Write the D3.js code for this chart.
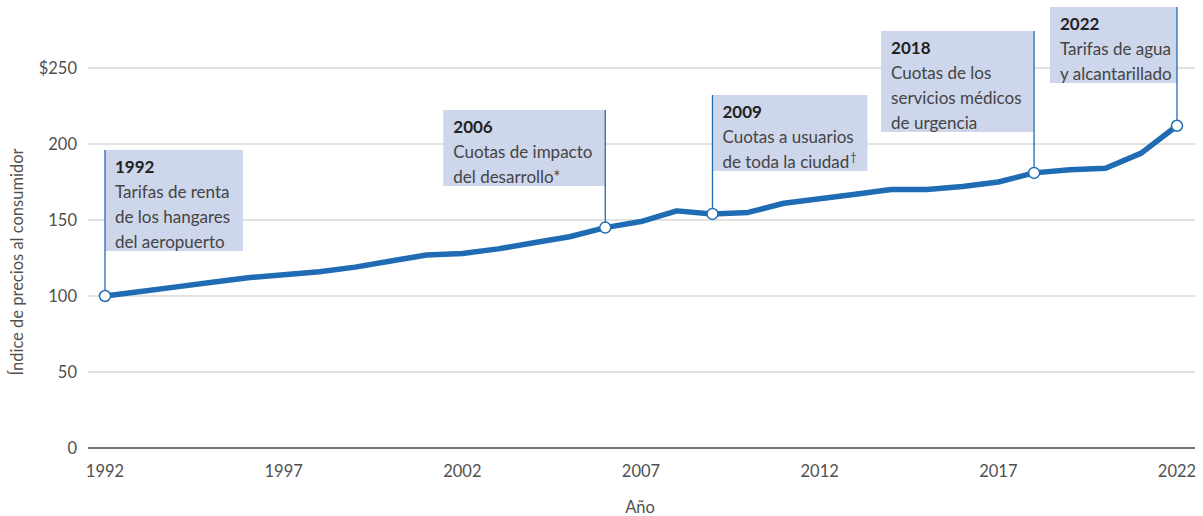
<!DOCTYPE html>
<html><head><meta charset="utf-8">
<script src="https://cdn.jsdelivr.net/npm/d3@7"></script>
<style>
body{margin:0;background:#fff;}
svg text{font-family:Lato,"Noto Sans",sans-serif;}
</style></head>
<body><svg id="c" width="1203" height="516"></svg>
<script>
const years = d3.range(1992, 2023);
const cpi = [100,103,106,109,112,114,116,119,123,127,128,131,135,139,145,149,156,154,155,161,164,167,170,170,172,175,181,183,184,194,212];
const yTicks = [0,50,100,150,200,250];
const xTicks = [1992,1997,2002,2007,2012,2017,2022];
const annYears = [1992,2006,2009,2018,2022];
const annTitles = ["1992","2006","2009","2018","2022"];
const annLines = [
  ["Tarifas de renta","de los hangares","del aeropuerto"],
  ["Cuotas de impacto","del desarrollo*"],
  ["Cuotas a usuarios","de toda la ciudad"],
  ["Cuotas de los","servicios médicos","de urgencia"],
  ["Tarifas de agua","y alcantarillado"]
];
const annSup = ["","","†","",""];
const annSide = ["right","left","right","left","left"];
const annTop = [150,110,95,31,7];
const annWidth = [138,162,155,153,127];

const svg = d3.select("#c");
const x = d3.scaleLinear().domain([1992,2022]).range([105,1177]);
const y = d3.scaleLinear().domain([0,250]).range([448,68]);
const txt = "#505050";

// grid
svg.append("g").selectAll("line").data(yTicks.filter(d=>d>0)).join("line")
  .attr("x1",88).attr("x2",1195).attr("y1",d=>y(d)).attr("y2",d=>y(d))
  .attr("stroke","#d9d9d9").attr("stroke-width",1.3);
svg.append("line").attr("x1",88).attr("x2",1195).attr("y1",y(0)).attr("y2",y(0))
  .attr("stroke","#444").attr("stroke-width",1.5);

// y labels
svg.append("g").selectAll("text").data(yTicks).join("text")
  .attr("x",77).attr("y",d=>y(d)+6).attr("text-anchor","end")
  .attr("font-size",16.5).attr("fill",txt)
  .text(d=>d===250?"$250":d);
// x labels
svg.append("g").selectAll("text").data(xTicks).join("text")
  .attr("x",d=>x(d)).attr("y",477).attr("text-anchor","middle")
  .attr("font-size",16.5).attr("fill",txt).text(d=>d);
svg.append("text").attr("x",640).attr("y",513).attr("text-anchor","middle")
  .attr("font-size",16.5).attr("fill",txt).text("Año");
svg.append("text").attr("transform","translate(23,262) rotate(-90)").attr("text-anchor","middle")
  .attr("font-size",16.5).attr("fill",txt).text("Índice de precios al consumidor");

// annotation boxes
const blue = "#1f6cb5";
annYears.forEach((yr,i)=>{
  const lx = x(yr);
  const w = annWidth[i];
  const bx = annSide[i]==="right" ? lx : lx - w;
  const h = 26 + annLines[i].length*25;
  const g = svg.append("g");
  g.append("rect").attr("x",bx).attr("y",annTop[i]).attr("width",w).attr("height",h).attr("fill","#cdd6ea");
  g.append("line").attr("x1",lx).attr("x2",lx).attr("y1",annTop[i]).attr("y2",y(cpi[yr-1992]))
    .attr("stroke",blue).attr("stroke-width",1.3);
  const tx = bx + 10;
  g.append("text").attr("x",tx).attr("y",annTop[i]+23).attr("font-size",17).attr("font-weight",700)
    .attr("fill","#222").text(annTitles[i]);
  annLines[i].forEach((t,j)=>{
    const tt = g.append("text").attr("x",tx).attr("y",annTop[i]+48+j*25).attr("font-size",17)
      .attr("fill","#444").text(t);
    if (j===annLines[i].length-1 && annSup[i]) {
      tt.append("tspan").attr("font-size",11).attr("dy",-7).attr("dx",1).text(annSup[i]);
    }
  });
});

// line
const line = d3.line().x((d,i)=>x(years[i])).y(d=>y(d));
svg.append("path").datum(cpi).attr("d",line).attr("fill","none")
  .attr("stroke",blue).attr("stroke-width",5.5).attr("stroke-linejoin","round");
svg.append("g").selectAll("circle").data(annYears).join("circle")
  .attr("cx",d=>x(d)).attr("cy",d=>y(cpi[d-1992])).attr("r",5.5)
  .attr("fill","#fff").attr("stroke",blue).attr("stroke-width",1.5);
</script></body></html>
